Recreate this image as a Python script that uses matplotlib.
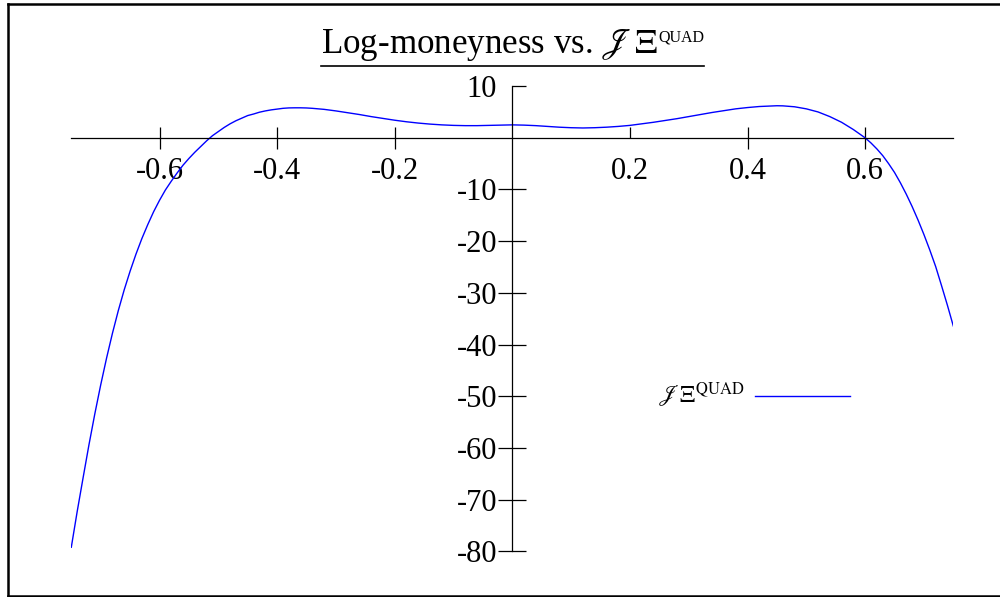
import matplotlib
matplotlib.use("Agg")
import matplotlib.pyplot as plt
from matplotlib.lines import Line2D

plt.rcParams['font.family'] = ['Liberation Serif', 'DejaVu Serif']
plt.rcParams['mathtext.fontset'] = 'stix'

# curve
log_money = [-0.75, -0.74, -0.73, -0.72, -0.71, -0.70, -0.69, -0.68, -0.67,
             -0.66, -0.65, -0.64, -0.63, -0.62, -0.61, -0.60, -0.59, -0.58,
             -0.57, -0.56, -0.55, -0.54, -0.53, -0.52, -0.51, -0.50, -0.49,
             -0.48, -0.47, -0.46, -0.45, -0.44, -0.43, -0.42, -0.41, -0.40,
             -0.39, -0.38, -0.37, -0.36, -0.35, -0.34, -0.32, -0.30, -0.28,
             -0.26, -0.24, -0.22, -0.20, -0.18, -0.16, -0.14, -0.12, -0.10,
             -0.08, -0.06, -0.04, -0.02, 0.0, 0.02, 0.04, 0.06, 0.08, 0.10,
             0.12, 0.14, 0.16, 0.18, 0.20, 0.22, 0.24, 0.26, 0.28, 0.30,
             0.32, 0.34, 0.36, 0.38, 0.40, 0.42, 0.44, 0.45, 0.46, 0.48,
             0.50, 0.52, 0.54, 0.56, 0.58, 0.60, 0.61, 0.62, 0.63, 0.64,
             0.65, 0.66, 0.67, 0.68, 0.69, 0.70, 0.71, 0.72, 0.73, 0.74, 0.75]
xi_quad = [-79.2, -72.3, -65.8, -59.4, -53.4, -47.8, -42.6, -37.8, -33.4,
           -29.4, -25.8, -22.5, -19.5, -16.8, -14.3, -12.1, -10.1, -8.4,
           -6.8, -5.3, -4.0, -2.8, -1.7, -0.6, 0.4, 1.2, 2.0,
           2.7, 3.3, 3.8, 4.3, 4.6, 4.95, 5.2, 5.4, 5.55,
           5.7, 5.78, 5.8, 5.8, 5.77, 5.7, 5.5, 5.2, 4.85,
           4.5, 4.1, 3.75, 3.4, 3.1, 2.85, 2.65, 2.5, 2.4,
           2.35, 2.35, 2.4, 2.45, 2.5, 2.45, 2.35, 2.2, 2.05, 1.95,
           1.9, 1.95, 2.05, 2.2, 2.4, 2.7, 3.0, 3.35, 3.7, 4.1,
           4.5, 4.9, 5.25, 5.6, 5.85, 6.05, 6.15, 6.2, 6.18, 6.0,
           5.6, 5.0, 4.1, 3.0, 1.6, 0.0, -1.0, -2.15, -3.45, -5.0,
           -6.7, -8.7, -10.9, -13.3, -15.9, -18.7, -21.7, -24.9, -28.6, -32.4, -36.4]

x_ticks = [-0.6, -0.4, -0.2, 0.4, 0.6]
x_labels = ['-0.6', '-0.4', '-0.2', '0.4', '0.6']
x_minor = [0.2]
x_minor_labels = ['0.2']
y_ticks = [-80, -70, -60, -50, -40, -30, -20, -10]
y_labels = ['-80', '-70', '-60', '-50', '-40', '-30', '-20', '-10']
y_minor = [10]
y_minor_labels = ['10']

label = r'$\mathscr{J}\,\Xi^{\mathrm{QUAD}}$'

fig = plt.figure(figsize=(10, 5.97), dpi=100)
ax = fig.add_axes([0.0713, 0.0591, 0.882, 0.814])
ax.plot(log_money, xi_quad, color='#0000ff', lw=1.0, label=label,
        solid_joinstyle='round')

ax.set_xlim(-0.75, 0.75)
ax.set_ylim(-82, 12)

for s in ['top', 'right']:
    ax.spines[s].set_visible(False)
ax.spines['left'].set_position(('data', 0))
ax.spines['bottom'].set_position(('data', 0))
ax.spines['left'].set_bounds(-80, 10)
for s in ['left', 'bottom']:
    ax.spines[s].set_linewidth(0.9)

ax.set_xticks(x_ticks, labels=x_labels)
ax.set_xticks(x_minor, labels=x_minor_labels, minor=True)
ax.set_yticks(y_ticks, labels=y_labels)
ax.set_yticks(y_minor, labels=y_minor_labels, minor=True)

ax.tick_params(axis='x', which='major', direction='inout', length=16, width=0.9, pad=5.5, labelsize=22)
ax.tick_params(axis='x', which='minor', direction='in', length=8, width=0.9, pad=13.5, labelsize=22)
ax.tick_params(axis='y', which='major', direction='inout', length=20, width=0.9, pad=1, labelsize=22)
ax.tick_params(axis='y', which='minor', direction='in', length=10, width=0.9, pad=11.5, labelsize=22)

leg = ax.legend(loc='center', bbox_to_anchor=(0.754, 0.337), bbox_transform=fig.transFigure,
                frameon=False, markerfirst=False, fontsize=17, handlelength=4.0,
                handletextpad=0.45, borderpad=0)

# title: main part plus a small raised "QUAD"
title = fig.text(0, 0.911, r'Log-moneyness vs. $\mathscr{J}\,\Xi$', ha='left',
                 va='baseline', fontsize=25.2)
sup = fig.text(0, (597 - 42) / 597, 'QUAD', ha='left', va='baseline', fontsize=11.5)

fig.canvas.draw()
r = fig.canvas.get_renderer()
w1 = title.get_window_extent(r).width
w2 = sup.get_window_extent(r).width
x0 = 512.5 - (w1 + w2 + 1) / 2
title.set_x(x0 / 1000)
sup.set_x((x0 + w1 + 1) / 1000)

# underline under the title and the page frame
fig.add_artist(Line2D([x0 / 1000, (x0 + w1 + w2 + 1) / 1000], [0.890, 0.890], color='black', lw=1.2))
fig.add_artist(Line2D([0.008, 1.0], [0.993, 0.993], color='black', lw=1.8))
fig.add_artist(Line2D([0.008, 0.008], [0.0017, 0.993], color='black', lw=1.8))
fig.add_artist(Line2D([0.008, 1.0], [0.0017, 0.0017], color='black', lw=1.8))

fig.savefig('out.png', dpi=100)
